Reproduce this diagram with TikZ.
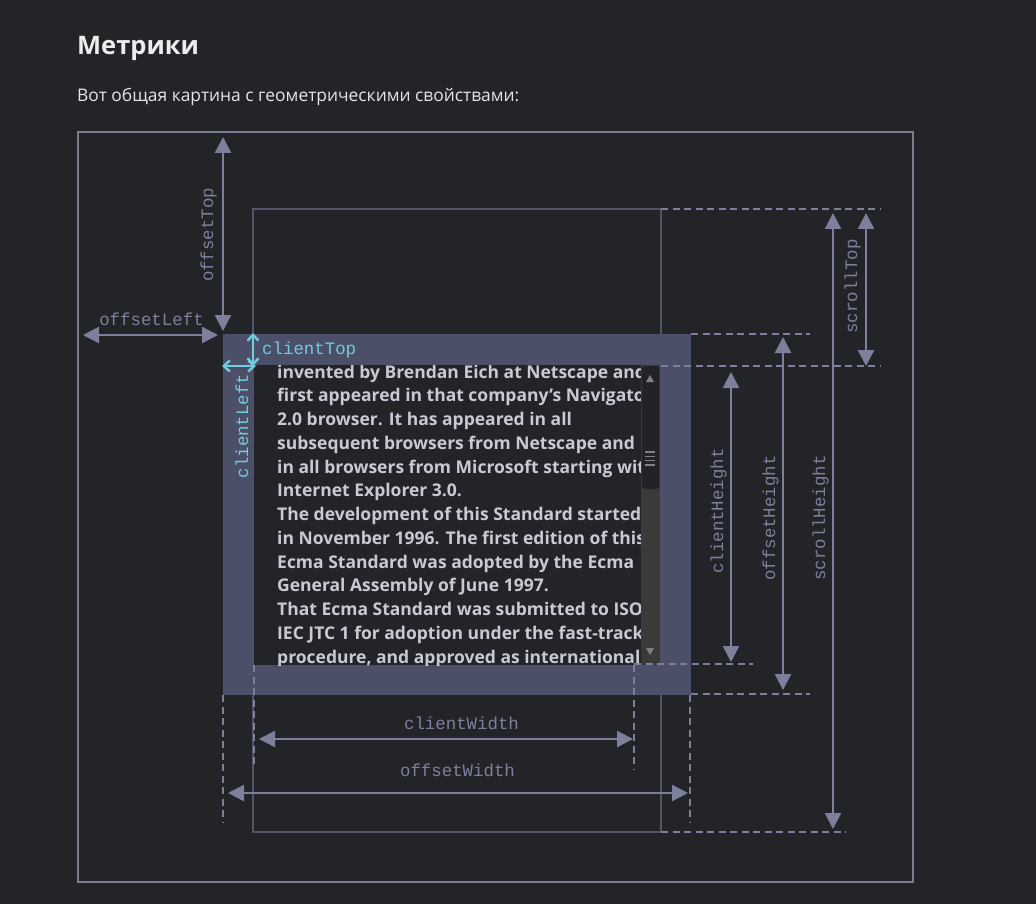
\documentclass[tikz,border=0pt]{standalone}
\usepackage{fontspec}
\setmainfont{Open Sans}
\newfontfamily\monofont{Liberation Mono}
\usetikzlibrary{arrows.meta,positioning}

\definecolor{pagebg}{RGB}{35,36,40}
\definecolor{framec}{RGB}{120,124,148}
\definecolor{scrollc}{RGB}{82,85,106}
\definecolor{borderc}{RGB}{76,79,104}
\definecolor{dimc}{RGB}{125,128,156}
\definecolor{cyanc}{RGB}{112,204,222}
\definecolor{bodyc}{RGB}{200,201,212}
\definecolor{trackc}{RGB}{58,58,56}
\definecolor{thumbc}{RGB}{34,35,38}
\definecolor{gripc}{RGB}{128,128,128}

\begin{document}
\begin{tikzpicture}[
  x=1pt, y=-1pt,
  dim/.style = {draw=dimc, line width=2.4pt,
    {Triangle[length=16pt,width=16pt]}-{Triangle[length=16pt,width=16pt]}},
  cdim/.style = {draw=cyanc, line width=2.4pt,
    {Straight Barb[length=6pt,width=11pt]}-{Straight Barb[length=6pt,width=11pt]}},
  guide/.style = {draw=dimc, line width=2pt, dash pattern=on 7pt off 4.5pt},
  lbl/.style = {font=\monofont\fontsize{17.4}{20}\selectfont, text=dimc, inner sep=0pt},
  clbl/.style = {lbl, text=cyanc},
  bodyline/.style = {font=\bfseries\fontsize{17.5}{20}\selectfont, text=bodyc, inner sep=0pt, anchor=base west}
  ]
  \useasboundingbox[fill=pagebg] (0,0) rectangle (1036,904);

  % heading
  \node[font=\bfseries\fontsize{25.5}{30}\selectfont, text=white!92!pagebg, anchor=base west, inner sep=0pt]
    (title) at (77,55) {Метрики};
  \node[font=\fontsize{17.4}{22}\selectfont, text=white!88!pagebg, anchor=base west, inner sep=0pt]
    (intro) at (77,102) {Вот общая картина с геометрическими свойствами:};

  % outer frame and scrolled content
  \draw[framec, line width=2pt] (78,132) rectangle (913,882);
  \draw[scrollc, line width=2pt] (253,209) rectangle (661,832);

  % element with border
  \fill[borderc] (223,334) rectangle (691,695);
  \fill[pagebg] (254,365) rectangle (660,665);

  \begin{scope}
    \clip (254,365) rectangle (641,665);
    \foreach \t [count=\i] in {
      {invented by Brendan Eich at Netscape and},
      {first appeared in that company’s Navigator},
      {2.0 browser. It has appeared in all},
      {subsequent browsers from Netscape and},
      {in all browsers from Microsoft starting with},
      {Internet Explorer 3.0.},
      {The development of this Standard started},
      {in November 1996. The first edition of this},
      {Ecma Standard was adopted by the Ecma},
      {General Assembly of June 1997.},
      {That Ecma Standard was submitted to ISO/},
      {IEC JTC 1 for adoption under the fast-track},
      {procedure, and approved as international}}
      \node[bodyline] (line\i) at (277,{378+23.75*(\i-1)}) {\t};
  \end{scope}

  % scrollbar
  \fill[trackc] (641,365) rectangle (660,665);
  \fill[thumbc, rounded corners=3pt] (642,366) rectangle (659,489);
  \foreach \k in {0,1,2,3}
    \draw[gripc, line width=1.2pt] (645,{452+4.3*\k}) -- (655,{452+4.3*\k});
  \fill[gripc] (646,382) -- (650,375) -- (654,382) -- cycle;
  \fill[gripc] (646,648) -- (650,655) -- (654,648) -- cycle;

  % guide lines
  \draw[guide] (661,209) -- (880,209);
  \draw[guide] (691,334) -- (810,334);
  \draw[guide] (661,366) -- (880,366);
  \draw[guide] (634,664) -- (753,664);
  \draw[guide] (691,694) -- (810,694);
  \draw[guide] (661,832) -- (846,832);
  \draw[guide] (254,665) -- (254,768);
  \draw[guide] (634,665) -- (634,770);
  \draw[guide] (223,695) -- (223,822);
  \draw[guide] (690,695) -- (690,822);

  % end points of the measures
  \coordinate (otA) at (223,137);  \coordinate (otB) at (223,331);
  \coordinate (olA) at (83,335);   \coordinate (olB) at (218,335);
  \coordinate (ctA) at (253,333);  \coordinate (ctB) at (253,366);
  \coordinate (clA) at (222,366);  \coordinate (clB) at (256,366);
  \coordinate (cwA) at (259,739);  \coordinate (cwB) at (633,739);
  \coordinate (owA) at (228,793);  \coordinate (owB) at (688,793);
  \coordinate (chA) at (731,372);  \coordinate (chB) at (731,662);
  \coordinate (ohA) at (783,337);  \coordinate (ohB) at (783,690);
  \coordinate (shA) at (833,213);  \coordinate (shB) at (833,829);
  \coordinate (stA) at (866,213);  \coordinate (stB) at (866,366);

  \draw[dim] (otA) -- (otB);
  \draw[dim] (olA) -- (olB);
  \draw[dim] (cwA) -- (cwB);
  \draw[dim] (owA) -- (owB);
  \draw[dim] (chA) -- (chB);
  \draw[dim] (ohA) -- (ohB);
  \draw[dim] (shA) -- (shB);
  \draw[dim] (stA) -- (stB);
  \draw[cdim] (ctA) -- (ctB);
  \draw[cdim] (clA) -- (clB);

  % labels
  \node[lbl, rotate=90, anchor=base] (offsetTop) at (213,235) {offsetTop};
  \node[lbl] (offsetLeft) at (151.5,319) {offsetLeft};
  \node[clbl, anchor=base west] (clientTop) at (262,354) {clientTop};
  \node[clbl, rotate=90] (clientLeft) at (242,426) {clientLeft};
  \node[lbl] (clientWidth) at (461.5,723) {clientWidth};
  \node[lbl] (offsetWidth) at (457.5,770.5) {offsetWidth};
  \node[lbl, rotate=90, anchor=base] (clientHeight) at (723,511) {clientHeight};
  \node[lbl, rotate=90, anchor=base] (offsetHeight) at (775,518) {offsetHeight};
  \node[lbl, rotate=90, anchor=base] (scrollHeight) at (825,518) {scrollHeight};
  \node[lbl, rotate=90, anchor=base] (scrollTop) at (857,286.5) {scrollTop};

\end{tikzpicture}
\end{document}
